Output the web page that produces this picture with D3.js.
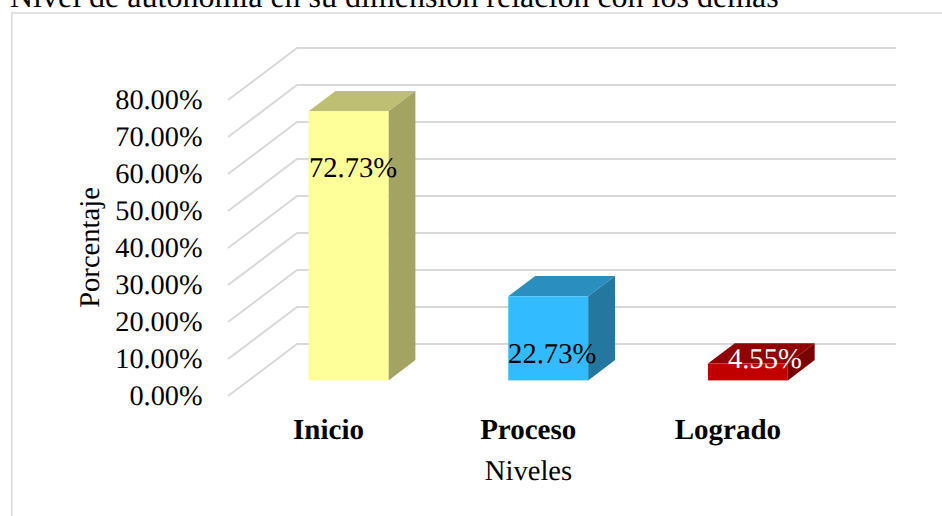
<!DOCTYPE html>
<html>
<head>
<meta charset="utf-8">
<script src="https://cdn.jsdelivr.net/npm/d3@7"></script>
<style>
  html, body { margin: 0; padding: 0; background: #fff; overflow: hidden; }
  text { font-family: "Liberation Serif", serif; fill: #000; text-rendering: geometricPrecision; }
</style>
</head>
<body>
<div id="chart"></div>
<script>
// data
var categories = ["Inicio", "Proceso", "Logrado"];
var values = [72.73, 22.73, 4.55];
var yTicks = [0, 10, 20, 30, 40, 50, 60, 70, 80];
var frontColors = ["#ffff99", "#33bbff", "#c00000"];
var topColors = ["#bfbf73", "#2a8fbe", "#900000"];
var sideColors = ["#a3a362", "#24779f", "#7a0000"];
var labelColors = ["#000", "#000", "#fff"];

var width = 942, height = 516, fontSize = 28.6;

// front plane of the 3d box, the back wall is shifted by depth
var depth = { x: 69, y: -52 };
var barDepth = { start: 0.3, end: 0.69 };

var x = d3.scaleBand()
  .domain(categories)
  .range([228, 827])
  .paddingInner(0.6)
  .paddingOuter(0.3);

var y = d3.scaleLinear()
  .domain([0, 80])
  .range([396, 100]);

var svg = d3.select("#chart").append("svg")
  .attr("width", width)
  .attr("height", height);

// chart frame, runs off the page right and bottom
svg.append("rect")
  .attr("x", 11.8)
  .attr("y", 13)
  .attr("width", 1000)
  .attr("height", 1000)
  .attr("fill", "none")
  .attr("stroke", "#d9d9d9")
  .attr("stroke-width", 1.5);

svg.append("text")
  .attr("x", 10)
  .attr("y", 6.5)
  .attr("font-size", 32)
  .text("Nivel de autonomía en su dimensión relación con los demás");

// gridlines: side wall then back wall
svg.append("g")
  .selectAll("path")
  .data(yTicks)
  .join("path")
  .attr("d", function(d) {
    return d3.line()([
      [x.range()[0], y(d)],
      [x.range()[0] + depth.x, y(d) + depth.y],
      [x.range()[1] + depth.x, y(d) + depth.y]
    ]);
  })
  .attr("fill", "none")
  .attr("stroke", "#d9d9d9")
  .attr("stroke-width", 2);

// tick labels sit a bit under the end of their gridline
var yAxis = svg.append("g")
  .attr("transform", "translate(202.5,9.5)")
  .call(d3.axisLeft(y)
    .tickValues(yTicks)
    .tickSize(0)
    .tickPadding(0)
    .tickFormat(function(d) { return d3.format(".2f")(d) + "%"; }));
yAxis.select(".domain").remove();
yAxis.selectAll("text")
  .attr("font-size", 28.3)
  .attr("font-family", '"Liberation Serif", serif')
  .attr("dy", "-0.05em");

// one box per category
var dx0 = depth.x * barDepth.start,
  dy0 = depth.y * barDepth.start,
  dx = depth.x * (barDepth.end - barDepth.start),
  dy = depth.y * (barDepth.end - barDepth.start);

var bars = svg.append("g")
  .selectAll("g")
  .data(categories)
  .join("g")
  .attr("transform", "translate(" + dx0 + "," + dy0 + ")");

bars.append("path")
  .attr("d", function(d, i) {
    var l = x(d), r = l + x.bandwidth(), t = y(values[i]);
    return d3.line()([[l, t], [l + dx, t + dy], [r + dx, t + dy], [r, t]]) + "Z";
  })
  .attr("fill", function(d, i) { return topColors[i]; });

bars.append("path")
  .attr("d", function(d, i) {
    var r = x(d) + x.bandwidth(), t = y(values[i]), b = y(0);
    return d3.line()([[r, t], [r + dx, t + dy], [r + dx, b + dy], [r, b]]) + "Z";
  })
  .attr("fill", function(d, i) { return sideColors[i]; });

bars.append("rect")
  .attr("x", function(d) { return x(d); })
  .attr("y", function(d, i) { return y(values[i]); })
  .attr("width", x.bandwidth())
  .attr("height", function(d, i) { return y(0) - y(values[i]); })
  .attr("fill", function(d, i) { return frontColors[i]; });

// data labels were moved by hand in the original
var labelShiftX = [4.5, 4, 17];
var labelBaseY = [177, 363, 368];

svg.append("g")
  .selectAll("text")
  .data(categories)
  .join("text")
  .attr("x", function(d, i) { return x(d) + dx0 + x.bandwidth() / 2 + labelShiftX[i]; })
  .attr("y", function(d, i) { return labelBaseY[i]; })
  .attr("text-anchor", "middle")
  .attr("font-size", fontSize)
  .style("fill", function(d, i) { return labelColors[i]; })
  .text(function(d, i) { return values[i].toFixed(2) + "%"; });

// category labels
svg.append("g")
  .selectAll("text")
  .data(categories)
  .join("text")
  .attr("x", function(d) { return x(d) + x.bandwidth() / 2 + 0.7; })
  .attr("y", 439)
  .attr("text-anchor", "middle")
  .attr("font-size", 29)
  .attr("font-weight", "bold")
  .text(function(d) { return d; });

svg.append("text")
  .attr("x", 528.5)
  .attr("y", 480)
  .attr("text-anchor", "middle")
  .attr("font-size", fontSize)
  .text("Niveles");

svg.append("text")
  .attr("transform", "translate(99,247.5) rotate(-90)")
  .attr("text-anchor", "middle")
  .attr("font-size", fontSize)
  .text("Porcentaje");
</script>
</body>
</html>
